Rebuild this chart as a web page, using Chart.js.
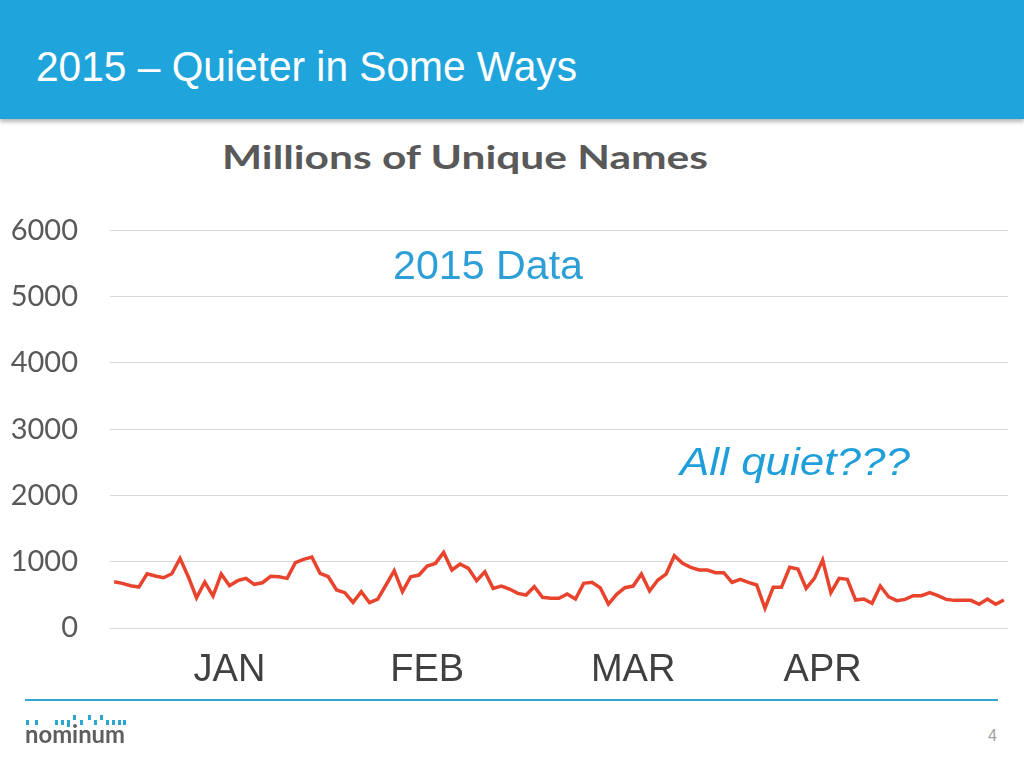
<!DOCTYPE html>
<html>
<head>
<meta charset="utf-8">
<script src="https://cdn.jsdelivr.net/npm/chart.js@4.4.1/dist/chart.umd.min.js"></script>
<style>
  html, body { margin:0; padding:0; width:1024px; height:768px; overflow:hidden; background:#fff; }
  #header { position:absolute; left:0; top:0; width:1024px; height:119px; background:#1FA5DC; box-shadow:0 3px 4px rgba(0,0,0,0.28); }
  .txt { position:absolute; white-space:nowrap; line-height:1; }
  #title { left:36px; top:46px; font-family:"Liberation Sans", Arial, sans-serif; font-size:42px; color:#fff; transform-origin:0 0; }
  #ctitle { left:465px; top:141px; font-family:Lato, "Open Sans", sans-serif; font-weight:bold; font-size:32px; color:#595959; }
  #data2015 { left:488px; top:245px; font-family:"Liberation Sans", Arial, sans-serif; font-size:41px; color:#2E9FD6; }
  #quiet { left:795px; top:442px; font-family:"Liberation Sans", Arial, sans-serif; font-style:italic; font-size:39px; color:#1E9FD9; }
  #chartwrap { position:absolute; left:0; top:181px; width:1024px; height:539px; }
  #rule { position:absolute; left:25px; top:699px; width:973px; height:2px; background:#35A6D1; }
  #logo { position:absolute; left:25px; top:711px; width:110px; height:36px; }
  #logotext { position:absolute; left:0; top:10px; font-family:Lato, "Open Sans", sans-serif; font-weight:bold; font-size:25px; color:#5E5E5E; line-height:1; transform-origin:0 0; }
  .dot { position:absolute; width:3px; background:#2BA6D3; }
  #pagenum { left:988px; top:728px; font-family:"Liberation Sans", Arial, sans-serif; font-size:16px; color:#A0A0A0; }
</style>
</head>
<body>
<div id="header"></div>
<div id="title" class="txt">2015 – Quieter in Some Ways</div>
<div id="ctitle" class="txt">Millions of Unique Names</div>
<div id="chartwrap"><canvas id="c" width="1024" height="539"></canvas></div>
<div id="data2015" class="txt">2015 Data</div>
<div id="quiet" class="txt">All quiet???</div>
<div id="rule"></div>
<div id="logo"><div id="logotext">nominum</div></div>
<div id="pagenum" class="txt">4</div>
<script>
// ---- data ----
const uniqueNames = [
  698, 674, 638, 618, 819, 784, 759, 819, 1051, 774,
  457, 694, 483, 814, 638, 714, 749, 659, 683, 780,
  774, 749, 985, 1036, 1071, 825, 774, 573, 533, 387,
  548, 382, 437, 649, 865, 548, 774, 799, 935, 975,
  1141, 875, 965, 900, 714, 849, 598, 633, 588, 523,
  498, 623, 463, 448, 448, 513, 437, 674, 689, 608,
  362, 508, 608, 633, 814, 558, 724, 814, 1091, 975,
  915, 875, 875, 834, 834, 689, 734, 689, 649, 297,
  614, 614, 915, 890, 598, 749, 1026, 533, 749, 734,
  422, 437, 372, 633, 472, 412, 432, 487, 487, 533,
  487, 432, 417, 417, 417, 357, 437, 357, 422
];
const monthLabels = ['JAN', 'FEB', 'MAR', 'APR'];
const monthDayIndex = [14, 38, 63, 86];
const yTicks = [0, 1000, 2000, 3000, 4000, 5000, 6000];

const categories = uniqueNames.map((_, i) => {
  const k = monthDayIndex.indexOf(i);
  return k >= 0 ? monthLabels[k] : '';
});

// ---- text fitting ----
function fit(id, target, center) {
  const el = document.getElementById(id);
  const w = el.getBoundingClientRect().width;
  const s = target / w;
  if (center) {
    el.style.transformOrigin = '50% 0';
    el.style.transform = 'translateX(-50%) scaleX(' + s + ')';
  } else {
    el.style.transform = 'scaleX(' + s + ')';
  }
}
fit('title', 541, false);
fit('ctitle', 486, true);
fit('data2015', 190, true);
fit('quiet', 230, true);
fit('logotext', 100, false);

// logo dots
const dotSpec = [[1,0,5],[10,0,5],[30,0,5],[36,0,5],[42,0,7],[48,-5,5],[55,0,5],[63,-5,5],[69,0,5],[75,-5,5],[81,0,5],[87,0,5],[93,0,5],[98,0,5]];
const logo = document.getElementById('logo');
dotSpec.forEach(d => {
  const e = document.createElement('div');
  e.className = 'dot';
  e.style.left = d[0] + 'px';
  e.style.top = (9 + d[1]) + 'px';
  e.style.height = d[2] + 'px';
  logo.appendChild(e);
});

// ---- chart ----
new Chart(document.getElementById('c'), {
  type: 'line',
  data: {
    labels: categories,
    datasets: [{
      data: uniqueNames,
      borderColor: '#E8432D',
      borderWidth: 3.5,
      pointRadius: 0,
      tension: 0,
      fill: false
    }]
  },
  options: {
    responsive: false,
    animation: false,
    devicePixelRatio: 1,
    layout: { padding: { top: 11, right: 16, left: 0, bottom: 0 } },
    plugins: { legend: { display: false }, tooltip: { enabled: false }, title: { display: false } },
    scales: {
      x: {
        type: 'category',
        offset: true,
        grid: { display: false },
        border: { display: false },
        ticks: {
          autoSkip: false, maxRotation: 0, minRotation: 0,
          color: '#404040',
          font: { family: '"Liberation Sans", Arial, sans-serif', size: 38 },
          padding: 12
        },
        afterFit: s => { s.height = 92; }
      },
      y: {
        min: 0, max: 6000,
        afterBuildTicks: s => { s.ticks = yTicks.map(v => ({ value: v })); },
        grid: { color: '#D9D9D9', lineWidth: 1, drawTicks: false },
        border: { display: false },
        ticks: {
          color: '#595959',
          font: { family: 'Lato, "Open Sans", sans-serif', size: 29 },
          padding: 32,
          callback: v => String(v)
        },
        afterFit: s => { s.width = 110; }
      }
    }
  }
});
</script>
</body>
</html>
